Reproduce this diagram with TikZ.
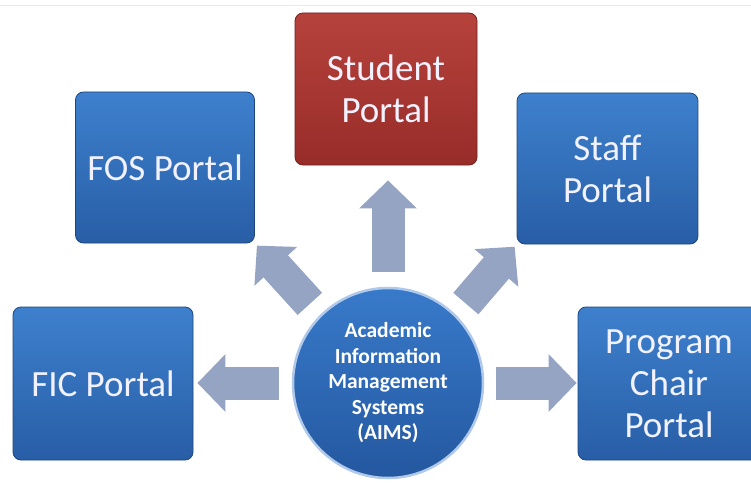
\documentclass[tikz,border=0pt]{standalone}
\usepackage{fontspec}
\setmainfont{Carlito}
\usepackage{xcolor}
\usetikzlibrary{arrows.meta, positioning, calc}

\definecolor{portaltop}{RGB}{62,128,205}
\definecolor{portalbottom}{RGB}{40,94,166}
\definecolor{studenttop}{RGB}{182,66,60}
\definecolor{studentbottom}{RGB}{152,44,41}
\definecolor{flowgray}{RGB}{150,164,196}
\definecolor{rimblue}{RGB}{176,200,234}
\definecolor{hubtop}{RGB}{56,122,202}
\definecolor{hubbottom}{RGB}{36,88,160}

\begin{document}
\begin{tikzpicture}[x=1pt, y=-1pt,
  portal/.style={draw=portalbottom!75!black, line width=0.8pt, rounded corners=8pt,
    top color=portaltop, bottom color=portalbottom, text=white!95!blue, align=center,
    inner sep=0pt, font=\fontsize{37}{42}\selectfont},
  hub/.style={circle, draw=rimblue, line width=2.5pt, top color=hubtop, bottom color=hubbottom,
    text=white, align=center, inner sep=0pt, minimum size=190pt,
    font=\fontsize{21.5}{25.5}\selectfont\bfseries},
  flow/.style={draw=flowgray, line width=33pt, -{Triangle[width=56pt,length=28pt]}}]

\useasboundingbox (0,0) rectangle (751,484);
\clip (0,0) rectangle (751,484);
\fill[white] (0,0) rectangle (751,484);
\draw[gray!18, line width=1pt] (0,6) -- (751,6);

% portals
\node[portal, top color=studenttop, bottom color=studentbottom, draw=studentbottom!75!black,
  minimum width=182pt, minimum height=152pt] (student) at (386,89) {Student\\Portal};
\node[portal, minimum width=179pt, minimum height=151pt] (fos) at (165,167.5) {FOS Portal};
\node[portal, minimum width=181pt, minimum height=151pt] (staff) at (607.5,168.5) {Staff\\Portal};
\node[portal, minimum width=180pt, minimum height=153pt] (fic) at (103,383.5) {FIC Portal};
\node[portal, minimum width=182pt, minimum height=153pt] (chair) at (669,383.5) {Program\\Chair\\Portal};

% centre
\node[hub] (aims) at (388,383) {Academic\\Information\\Management\\Systems\\(AIMS)};

% arrows out of the centre
\draw[flow, shorten <=15pt, shorten >=15pt] (aims.north) -- (aims.north |- student.south);
\draw[flow, shorten <=13pt, shorten >=4pt] (aims.west) -- (aims.west -| fic.east);
\draw[flow, shorten <=12pt, shorten >=1pt] (aims.east) -- (aims.east -| chair.west);
\draw[flow, shorten <=15pt, shorten >=3pt] (aims.135) -- (fos.south east);
\draw[flow, shorten <=15pt, shorten >=3pt] (aims.45) -- (staff.south west);
\end{tikzpicture}
\end{document}
